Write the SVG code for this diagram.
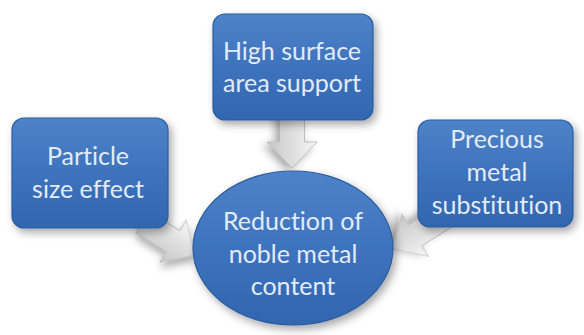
<svg xmlns="http://www.w3.org/2000/svg" width="584" height="335" viewBox="0 0 584 335">
  <defs>
    <linearGradient id="blue" x1="0" y1="0" x2="0" y2="1">
      <stop offset="0" stop-color="#4d83c8"/>
      <stop offset="0.5" stop-color="#3d73bd"/>
      <stop offset="1" stop-color="#3166af"/>
    </linearGradient>
    <linearGradient id="gray" x1="0" y1="0" x2="0" y2="1">
      <stop offset="0" stop-color="#f6f6f6"/>
      <stop offset="0.5" stop-color="#dedede"/>
      <stop offset="1" stop-color="#c6c6c6"/>
    </linearGradient>
    <filter id="shadow" x="-20%" y="-20%" width="150%" height="150%">
      <feDropShadow dx="3" dy="4" stdDeviation="4" flood-color="#000" flood-opacity="0.35"/>
    </filter>
    <polygon id="arrow" points="0,0 -26,-25 -26,-12.5 -62,-12.5 -62,12.5 -26,12.5 -26,25"/>
  </defs>
  <style>
    .node { fill: url(#blue); stroke: #2b5c9f; stroke-width: 1.2; filter: url(#shadow); }
    .arr { fill: url(#gray); stroke: #b4b4b4; stroke-width: 0.8; filter: url(#shadow); }
    .lbl { font-family: Lato, "Open Sans", "Liberation Sans", sans-serif; font-size: 25px; fill: #e4ebf6; text-anchor: middle; font-variant-ligatures: none; }
  </style>
  <rect width="584" height="335" fill="#ffffff"/>

  <g id="connectors">
    <use href="#arrow" class="arr" transform="translate(292,168) rotate(90)"/>
    <use href="#arrow" class="arr" transform="translate(195,255) rotate(32)"/>
    <use href="#arrow" class="arr" transform="translate(393,249) rotate(148)"/>
  </g>

  <g id="node-top">
    <rect class="node" x="213" y="14" width="160" height="106" rx="12"/>
    <text class="lbl" x="292" y="60">High surface</text>
    <text class="lbl" x="292" y="92">area support</text>
  </g>

  <g id="node-left">
    <rect class="node" x="12" y="118" width="156" height="110" rx="12"/>
    <text class="lbl" x="88" y="165">Particle</text>
    <text class="lbl" x="88" y="198">size effect</text>
  </g>

  <g id="node-right">
    <rect class="node" x="418" y="120" width="155" height="107" rx="12"/>
    <text class="lbl" x="497" y="148">Precious</text>
    <text class="lbl" x="497" y="181">metal</text>
    <text class="lbl" x="497" y="214">substitution</text>
  </g>

  <g id="node-center">
    <ellipse class="node" cx="293" cy="248" rx="100" ry="77"/>
    <text class="lbl" x="293" y="230">Reduction of</text>
    <text class="lbl" x="293" y="263">noble metal</text>
    <text class="lbl" x="293" y="295">content</text>
  </g>
</svg>
